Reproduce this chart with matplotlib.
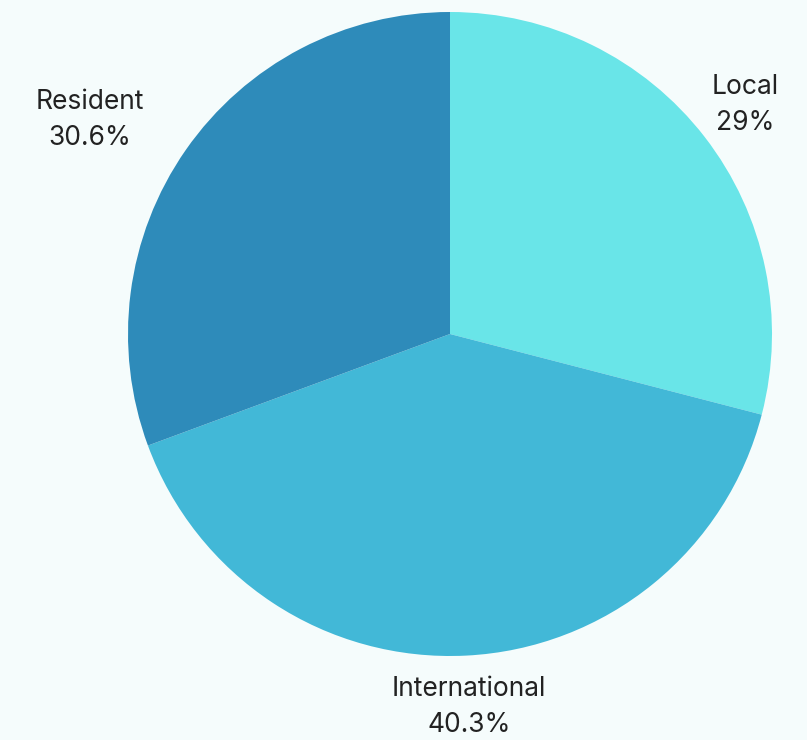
import matplotlib
matplotlib.use("Agg")
import matplotlib.pyplot as plt

categories = ["Local", "International", "Resident"]
values = [29.0, 40.3, 30.6]
pct_labels = ["29%", "40.3%", "30.6%"]
colors = ["#69E5E8", "#42B8D7", "#2E8BBA"]
bg = "#F5FCFC"

W, H = 807, 740
fig = plt.figure(figsize=(W / 100, H / 100), dpi=100, facecolor=bg)
cx, cy, R = 450, 334, 322
ax = fig.add_axes([(cx - R) / W, (H - cy - R) / H, 2 * R / W, 2 * R / H])
ax.set_facecolor(bg)

labels = [f"{c}\n{p}" for c, p in zip(categories, pct_labels)]
wedges, texts = ax.pie(values, labels=labels, colors=colors, startangle=90,
                       counterclock=False, radius=1.0, labeldistance=1.16,
                       textprops=dict(fontsize=19, color="#222222", family=["Inter", "DejaVu Sans"],
                                      linespacing=1.5),
                       wedgeprops=dict(linewidth=0))
for t, c in zip(texts, categories):
    t.set_multialignment("center")
    t.set_va("center")
    t.set_ha("right" if c == "Resident" else "center")
ax.set_xlim(-1, 1)
ax.set_ylim(-1, 1)
ax.set_aspect("equal")
ax.axis("off")

fig.savefig("out.png", dpi=100, facecolor=bg)
